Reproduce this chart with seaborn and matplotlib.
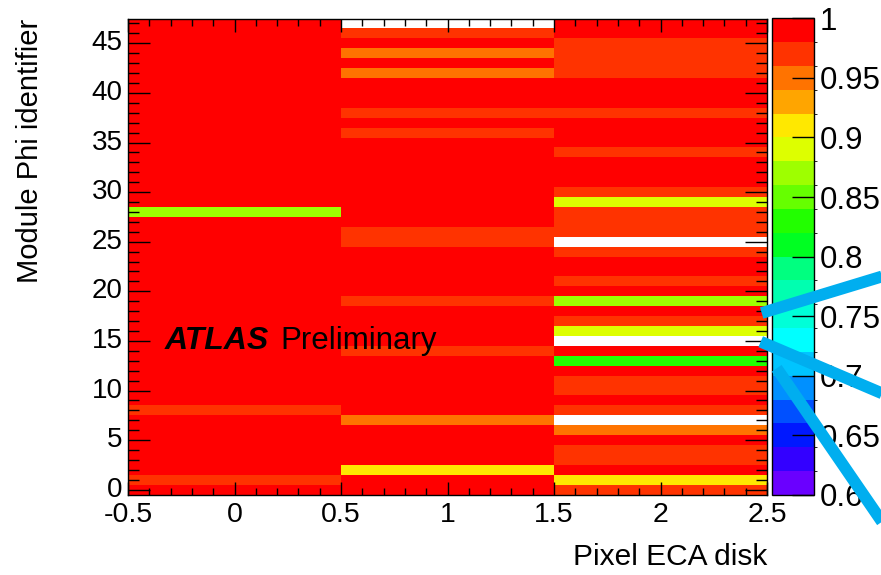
import numpy as np
import pandas as pd
import seaborn as sns
import matplotlib
matplotlib.use("Agg")
import matplotlib.pyplot as plt
from matplotlib.colors import ListedColormap, BoundaryNorm
from matplotlib.ticker import MultipleLocator, FuncFormatter
from matplotlib.lines import Line2D

# ---------------- data ----------------
modules = list(range(48))
disks = [0, 1, 2]

# efficiency per module phi (row 0 first); 0 = not drawn (below minimum)
disk0 = [1.0, 0.97, 1.0, 1.0, 1.0, 1.0, 1.0, 1.0, 0.97, 1.0,
         1.0, 1.0, 1.0, 1.0, 1.0, 1.0, 1.0, 1.0, 1.0, 1.0,
         1.0, 1.0, 1.0, 1.0, 1.0, 1.0, 1.0, 1.0, 0.87, 1.0,
         1.0, 1.0, 1.0, 1.0, 1.0, 1.0, 1.0, 1.0, 1.0, 1.0,
         1.0, 1.0, 1.0, 1.0, 1.0, 1.0, 1.0, 1.0]
disk1 = [1.0, 1.0, 0.91, 1.0, 1.0, 1.0, 1.0, 0.95, 1.0, 1.0,
         1.0, 1.0, 1.0, 1.0, 0.97, 1.0, 1.0, 1.0, 1.0, 0.97,
         1.0, 1.0, 1.0, 1.0, 1.0, 0.97, 0.97, 1.0, 1.0, 1.0,
         1.0, 1.0, 1.0, 1.0, 1.0, 1.0, 0.97, 1.0, 0.97, 1.0,
         1.0, 1.0, 0.95, 1.0, 0.95, 1.0, 0.97, 0.0]
disk2 = [0.97, 0.91, 1.0, 0.97, 0.97, 1.0, 0.95, 0.0, 0.97, 1.0,
         0.97, 0.97, 1.0, 0.83, 1.0, 0.0, 0.89, 0.97, 1.0, 0.87,
         1.0, 0.97, 1.0, 1.0, 0.97, 0.0, 0.97, 0.97, 0.97, 0.89,
         0.97, 1.0, 1.0, 1.0, 0.97, 1.0, 1.0, 1.0, 0.97, 1.0,
         1.0, 1.0, 0.97, 0.97, 0.97, 0.97, 1.0, 1.0]

cbar_ticks = [0.6, 0.65, 0.7, 0.75, 0.8, 0.85, 0.9, 0.95, 1.0]
levels = np.linspace(0.6, 1.0, 21)
palette = ["#6A00FF", "#3300FF", "#0018FF", "#0050FF", "#0090FF",
           "#00C4FF", "#00FFFF", "#00FFD8", "#00FFB0", "#00FF80",
           "#00FF22", "#22FF00", "#66FF00", "#9EFF00", "#DDFF00",
           "#FFE800", "#FFA500", "#FF7300", "#FF3300", "#FF0000"]

df = pd.DataFrame({d: v for d, v in zip(disks, [disk0, disk1, disk2])}, index=modules)

# ---------------- figure ----------------
plt.rcParams['font.family'] = ['Liberation Sans', 'DejaVu Sans']
fig = plt.figure(figsize=(8.81, 5.75), dpi=100)
ax = fig.add_axes([128/881, 1-494.7/575, (767-128)/881, (494.7-18.5)/575])
cax = fig.add_axes([772/881, 1-495/575, 42/881, (495-18.3)/575])

cmap = ListedColormap(palette)
cmap.set_under("white")
cmap.set_over("#FF0000")
norm = BoundaryNorm(levels, cmap.N)

sns.heatmap(df, ax=ax, cbar_ax=cax, cmap=cmap, norm=norm, cbar=True)

ax.set_ylim(0, len(modules))
ax.set_xlim(0, len(disks))
for s in ax.spines.values():
    s.set_visible(True)
    s.set_linewidth(1.0)
    s.set_color("black")

fmt = FuncFormatter(lambda v, p: f"{round(v - 0.5, 3):g}")
ax.xaxis.set_major_locator(MultipleLocator(0.5))
ax.xaxis.set_minor_locator(MultipleLocator(0.1))
ax.yaxis.set_major_locator(MultipleLocator(5, offset=0.5))
ax.yaxis.set_minor_locator(MultipleLocator(1, offset=0.5))
ax.xaxis.set_major_formatter(fmt)
ax.yaxis.set_major_formatter(fmt)
ax.tick_params(axis="both", which="both", direction="in", top=True, right=True,
               color="black", width=1)
ax.tick_params(axis="x", which="major", length=9.5, labelsize=20.5, pad=5, labelrotation=0)
ax.tick_params(axis="x", which="minor", length=5)
ax.tick_params(axis="y", which="major", length=16, labelsize=20, pad=4, labelrotation=0)
ax.tick_params(axis="y", which="minor", length=8)

ax.set_xlabel("Pixel ECA disk", fontsize=21.5, loc="right", labelpad=11)
ax.set_ylabel("Module Phi identifier", fontsize=21, loc="top", labelpad=34)

cb = ax.collections[0].colorbar
cb.outline.set_linewidth(1.0)
cb.outline.set_edgecolor("black")
cb.set_ticks(cbar_ticks)
cb.ax.yaxis.set_major_formatter(FuncFormatter(lambda v, p: f"{v:g}"))
cb.ax.tick_params(direction="in", length=16, width=1, labelsize=22.5, pad=4,
                  right=True, left=False, color="black")

fig.text(165/881, 1-341/575, "ATLAS", fontsize=23, weight="bold", style="italic",
         va="center", ha="left")
fig.text(280/881, 1-341/575, "Preliminary", fontsize=22.5, va="center", ha="left")

# overlay annotation strokes (blue)
def fpt(x, y):
    return x/881, 1 - y/575
for (x0, y0), (x1, y1) in [((761.7, 313), (900, 271)),
                           ((760.7, 341.7), (900, 401)),
                           ((776.7, 368.3), (900, 548))]:
    a, b = fpt(x0, y0)
    c, d = fpt(x1, y1)
    fig.add_artist(Line2D([a, c], [b, d], transform=fig.transFigure,
                          color="#00AEEF", lw=8.5, solid_capstyle="butt"))

fig.savefig("out.png", dpi=100)
